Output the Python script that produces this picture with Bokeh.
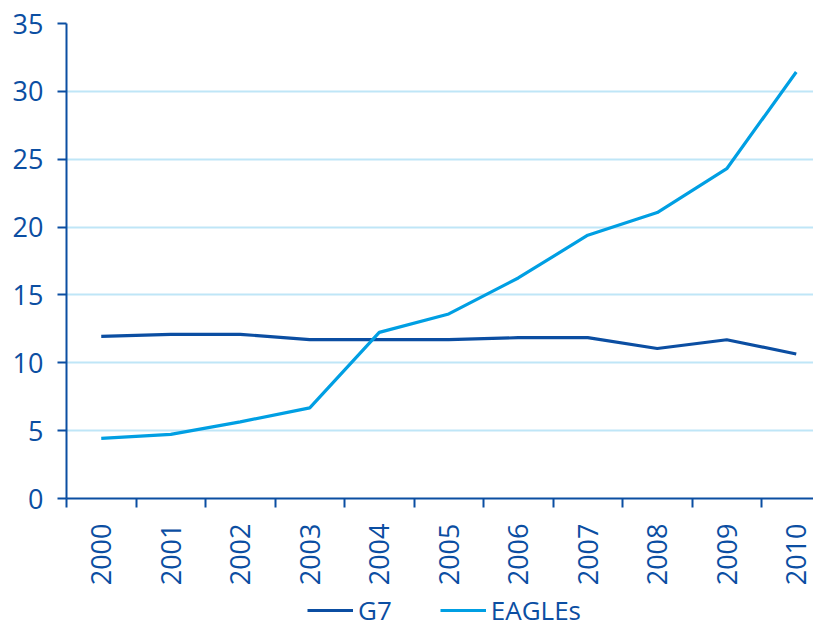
import math
from bokeh.plotting import figure
from bokeh.layouts import column
from bokeh.models import Range1d, FixedTicker, Legend, LegendItem, ColumnDataSource
from bokeh.embed import file_html
from bokeh.resources import INLINE

years = ["2000", "2001", "2002", "2003", "2004", "2005", "2006", "2007", "2008", "2009", "2010"]
g7 = [11.95, 12.1, 12.1, 11.7, 11.7, 11.7, 11.85, 11.85, 11.05, 11.7, 10.65]
eagles = [4.43, 4.73, 5.65, 6.68, 12.24, 13.6, 16.25, 19.4, 21.07, 24.3, 31.43]
y_ticks = [0, 5, 10, 15, 20, 25, 30, 35]
series_names = ["G7", "EAGLEs"]

FONT = "Open Sans"
DARK = "#0b4ea2"
LIGHT = "#009fe3"
GRID = "#bfe6f7"

xpos = [i + 0.5 for i in range(len(years))]
src = ColumnDataSource(dict(x=xpos, g7=g7, eagles=eagles))

p = figure(width=813, height=592, output_backend="svg", toolbar_location=None,
           x_range=Range1d(0, (813 - 66) / 69.5), y_range=Range1d(0, 35),
           min_border_left=66, min_border_right=0, min_border_top=23, min_border_bottom=94)
p.outline_line_color = None
p.background_fill_color = "white"

p.line("x", "g7", source=src, line_color=DARK, line_width=3.2)
p.line("x", "eagles", source=src, line_color=LIGHT, line_width=3.2)

# y axis
p.yaxis.ticker = FixedTicker(ticks=y_ticks)
p.yaxis.axis_line_color = DARK
p.yaxis.axis_line_width = 2
p.yaxis.major_tick_line_color = DARK
p.yaxis.major_tick_line_width = 2
p.yaxis.major_tick_out = 9
p.yaxis.major_tick_in = 0
p.yaxis.minor_tick_line_color = None
p.yaxis.major_label_standoff = 14
p.yaxis.major_label_text_font = FONT
p.yaxis.major_label_text_font_size = "27px"
p.yaxis.major_label_text_color = DARK

# x axis
p.xaxis.ticker = FixedTicker(ticks=xpos, minor_ticks=list(range(len(years) + 1)))
p.xaxis.major_label_overrides = {x: y for x, y in zip(xpos, years)}
p.xaxis.axis_line_color = DARK
p.xaxis.axis_line_width = 2
p.xaxis.major_tick_line_color = None
p.xaxis.major_tick_out = 9
p.xaxis.minor_tick_line_color = DARK
p.xaxis.minor_tick_line_width = 2
p.xaxis.minor_tick_out = 9
p.xaxis.minor_tick_in = 0
p.xaxis.major_label_orientation = math.pi / 2
p.xaxis.major_label_standoff = 16
p.xaxis.major_label_text_font = FONT
p.xaxis.major_label_text_font_size = "27px"
p.xaxis.major_label_text_color = DARK

p.xgrid.grid_line_color = None
p.ygrid.ticker = FixedTicker(ticks=y_ticks)
p.ygrid.grid_line_color = GRID
p.ygrid.grid_line_width = 2

# legend strip below the chart (series lines fall outside its tiny range, so only the key shows)
leg = figure(width=813, height=36, output_backend="svg", toolbar_location=None,
             x_axis_type=None, y_axis_type=None,
             x_range=Range1d(0, 1), y_range=Range1d(-2, -1),
             min_border_left=0, min_border_right=0, min_border_top=0, min_border_bottom=0)
leg.outline_line_color = None
leg.xgrid.grid_line_color = None
leg.ygrid.grid_line_color = None
l1 = leg.line("x", "g7", source=src, line_color=DARK, line_width=3.2)
l2 = leg.line("x", "eagles", source=src, line_color=LIGHT, line_width=3.2)

legend = Legend(items=[LegendItem(label=series_names[0], renderers=[l1]),
                       LegendItem(label=series_names[1], renderers=[l2])],
                orientation="horizontal", location=(241, 0),
                label_text_font=FONT, label_text_font_size="26px", label_text_color=DARK,
                glyph_width=46, glyph_height=20, label_standoff=5, spacing=48,
                padding=0, margin=0, border_line_color=None, background_fill_alpha=0)
leg.add_layout(legend, "center")

layout = column(p, leg, spacing=0)
open("out.html", "w").write(file_html(layout, INLINE))
